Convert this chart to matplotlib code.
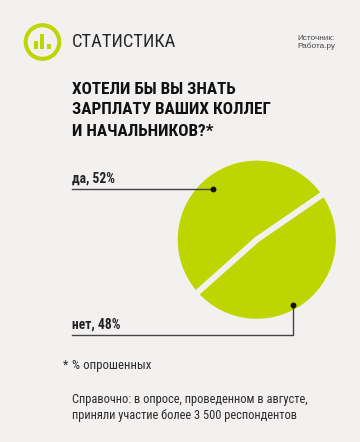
import matplotlib
matplotlib.use('Agg')
import matplotlib.pyplot as plt
from matplotlib.patches import Circle, Rectangle

labels = ['да, 52%', 'нет, 48%']
values = [52, 48]
title_lines = ['ХОТЕЛИ БЫ ВЫ ЗНАТЬ', 'ЗАРПЛАТУ ВАШИХ КОЛЛЕГ', 'И НАЧАЛЬНИКОВ?*']
note = '% опрошенных'
ref_lines = ['Справочно: в опросе, проведенном в августе,',
             'приняли участие более 3 500 респондентов']

bg = '#f3f0f0'
green = '#bed600'
dark = '#2b2b2b'
narrow = ['Roboto Condensed', 'Archivo Narrow', 'Liberation Sans Narrow', 'Liberation Sans', 'DejaVu Sans']
heavy = ['Roboto Condensed', 'Fira Sans Condensed', 'Liberation Sans', 'DejaVu Sans']

fig = plt.figure(figsize=(3.6, 4.42), dpi=100, facecolor=bg)
# axes in image pixels, y going down
ax = fig.add_axes([0, 0, 1, 1])
ax.set_xlim(0, 360)
ax.set_ylim(442, 0)
ax.axis('off')

# logo
ax.add_patch(Circle((42.5, 42), 16.8, fc='none', ec=green, lw=2.9))
ax.add_patch(Rectangle((34.2, 41), 3.7, 8, fc=green, ec='none'))
ax.add_patch(Rectangle((40, 34), 4.2, 15, fc=green, ec='none'))
ax.add_patch(Rectangle((46.5, 44), 4.6, 5, fc=green, ec='none'))

ax.text(72, 42, 'СТАТИСТИКА', family=narrow, fontsize=13.3, color='#262626', va='center')
ax.text(297, 38, 'Источник:', family=['Liberation Sans'], fontsize=5.9, color='#444444', va='center')
ax.text(297, 46.5, 'Работа.ру', family=['Liberation Sans'], fontsize=5.9, color='#444444', va='center')

for line, y in zip(title_lines, [90, 110, 131]):
    ax.text(72, y, line, family=heavy, fontsize=12.3, weight=900, color='#111111', va='center')

# pie, axes placed so that it sits at the right spot of the picture
pie_ax = fig.add_axes([174.8 / 360, 1 - 321.7 / 442, 164 / 360, 164 / 442])
pie_ax.pie(values, colors=[green, green], startangle=34.5, radius=1,
           wedgeprops=dict(edgecolor=bg, linewidth=4.2))
pie_ax.set_xlim(-1, 1)
pie_ax.set_ylim(-1, 1)
pie_ax.set_zorder(0)
ax.set_zorder(1)
ax.patch.set_alpha(0)

# callouts
ax.text(72, 178.5, labels[0], family=heavy, fontsize=9.8, weight='bold', color='#222222', va='center')
ax.plot([72, 213], [188.5, 188.5], color='#444444', lw=1)
ax.plot([213], [188.5], 'o', color='#111111', ms=3.2)
ax.text(72, 325, labels[1], family=heavy, fontsize=9.8, weight='bold', color='#222222', va='center')
ax.plot([72, 292.5, 292.5], [334.5, 334.5, 304.5], color='#444444', lw=1)
ax.plot([292.5], [304.5], 'o', color='#111111', ms=3.2)

ax.text(63, 365, '*', family=narrow, fontsize=9, color=dark, va='center')
ax.text(72, 366, note, family=narrow, fontsize=9.3, color=dark, va='center')
for line, y in zip(ref_lines, [400, 415]):
    ax.text(72, y, line, family=narrow, fontsize=8.95, color=dark, va='center')

fig.savefig('out.png', dpi=100, facecolor=bg)
